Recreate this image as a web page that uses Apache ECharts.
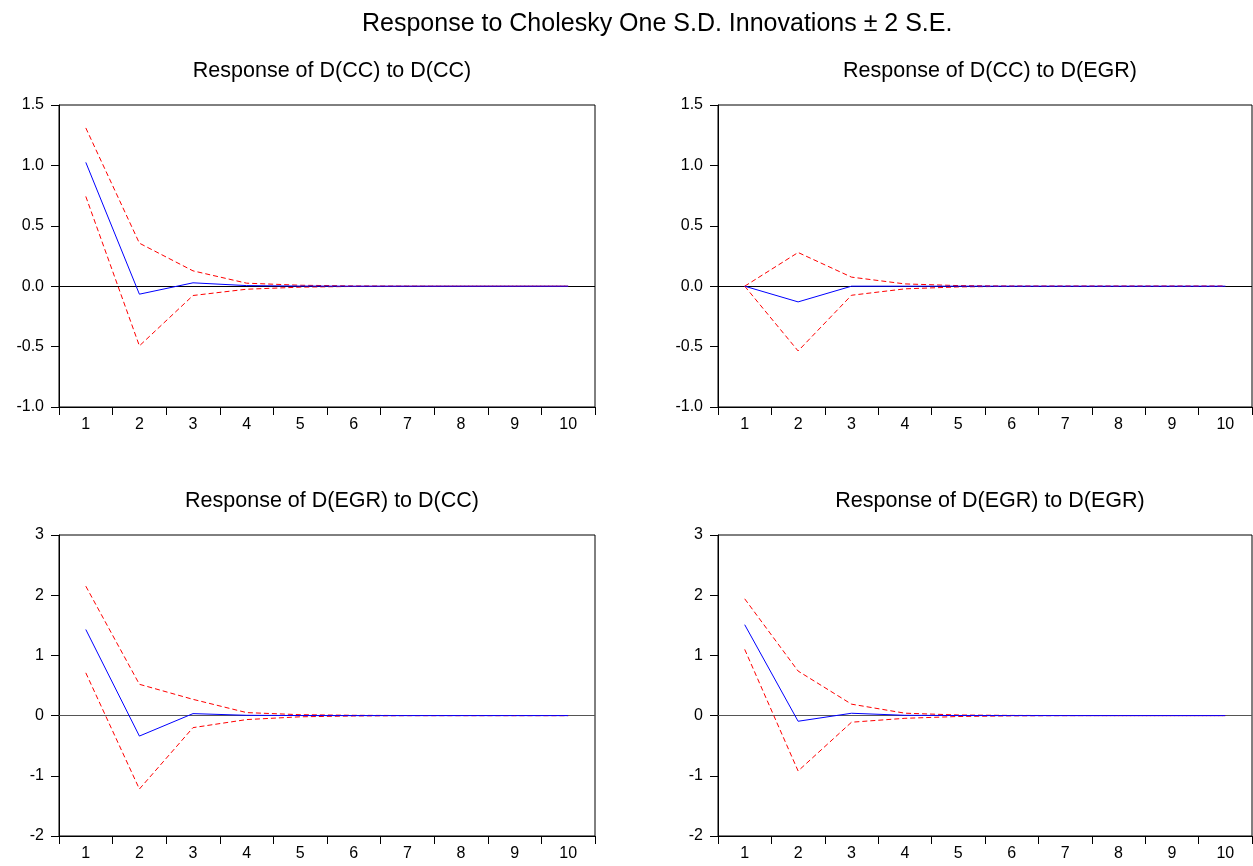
<!DOCTYPE html>
<html><head><meta charset="utf-8">
<script src="https://cdn.jsdelivr.net/npm/echarts@6/dist/echarts.min.js"></script>
<style>html,body{margin:0;padding:0;background:#fff}#c{width:1253px;height:866px}</style>
</head><body><div id="c"></div>
<script>
const periods = ['1','2','3','4','5','6','7','8','9','10'];
const mainTitle = 'Response to Cholesky One S.D. Innovations \u00b1 2 S.E.';
const panelTitles = ['Response of D(CC) to D(CC)','Response of D(CC) to D(EGR)','Response of D(EGR) to D(CC)','Response of D(EGR) to D(EGR)'];

const ccCC_resp  = [1.025,-0.066,0.028,0.005,0.001,0.000,0.000,0.000,0.000,0.000];
const ccCC_up    = [1.31,0.356,0.127,0.025,0.008,0.002,0.001,0.000,0.000,0.000];
const ccCC_lo    = [0.743,-0.494,-0.077,-0.025,-0.008,-0.002,-0.001,0.000,0.000,0.000];

const ccEGR_resp = [0.000,-0.13,0.000,0.000,0.000,0.000,0.000,0.000,0.000,0.000];
const ccEGR_up   = [0.000,0.279,0.075,0.019,0.005,0.001,0.000,0.000,0.000,0.000];
const ccEGR_lo   = [0.000,-0.536,-0.075,-0.022,-0.006,-0.001,0.000,0.000,0.000,0.000];

const egrCC_resp = [1.43,-0.34,0.033,0.005,0.001,0.000,0.000,0.000,0.000,0.000];
const egrCC_up   = [2.15,0.52,0.27,0.05,0.015,0.005,0.001,0.000,0.000,0.000];
const egrCC_lo   = [0.71,-1.22,-0.2,-0.066,-0.02,-0.006,-0.001,0.000,0.000,0.000];

const egrEGR_resp= [1.51,-0.094,0.039,0.005,0.001,0.000,0.000,0.000,0.000,0.000];
const egrEGR_up  = [1.94,0.74,0.19,0.04,0.01,0.003,0.001,0.000,0.000,0.000];
const egrEGR_lo  = [1.10,-0.92,-0.11,-0.045,-0.015,-0.004,-0.001,0.000,0.000,0.000];

const panels = [
  {resp: ccCC_resp, up: ccCC_up, lo: ccCC_lo, min: -1, max: 1.5, interval: 0.5, dec: 1, zeroColor: '#000'},
  {resp: ccEGR_resp, up: ccEGR_up, lo: ccEGR_lo, min: -1, max: 1.5, interval: 0.5, dec: 1, zeroColor: '#000'},
  {resp: egrCC_resp, up: egrCC_up, lo: egrCC_lo, min: -2, max: 3, interval: 1, dec: 0, zeroColor: '#555'},
  {resp: egrEGR_resp, up: egrEGR_up, lo: egrEGR_lo, min: -2, max: 3, interval: 1, dec: 0, zeroColor: '#555'}
];
const grids = [
  {left: 59, top: 105, width: 536, height: 302},
  {left: 718, top: 105, width: 534, height: 302},
  {left: 59, top: 535, width: 536, height: 301},
  {left: 718, top: 535, width: 534, height: 301}
];
const titleCenters = [327, 985, 327, 985];
const font = 'Liberation Sans, Arial, sans-serif';
const titles = [{text: mainTitle, left: 357, top: 7, textStyle: {fontFamily: font, fontSize: 25, fontWeight: 'normal', color: '#000'}}];
panels.forEach((p, i) => {
  const g = grids[i];
  titles.push({text: panelTitles[i], left: titleCenters[i], textAlign: 'center', top: g.top - 50,
    textStyle: {fontFamily: font, fontSize: 21.5, fontWeight: 'normal', color: '#000'}});
});
const option = {
  animation: false,
  backgroundColor: '#fff',
  title: titles,
  grid: grids.map(g => Object.assign({show: true, borderColor: '#000', borderWidth: 1, backgroundColor: 'transparent'}, g)),
  xAxis: panels.map((p, i) => ({
    type: 'category', gridIndex: i, data: periods, boundaryGap: true,
    axisLine: {onZero: false, lineStyle: {color: '#000', width: 1}},
    axisTick: {show: true, inside: false, length: 8, alignWithLabel: false, lineStyle: {color: '#000'}},
    axisLabel: {fontFamily: font, fontSize: 16, color: '#000', margin: 10},
    splitLine: {show: false}
  })),
  yAxis: panels.map((p, i) => ({
    type: 'value', gridIndex: i, min: p.min, max: p.max, interval: p.interval,
    axisLine: {show: true, onZero: false, lineStyle: {color: '#000', width: 1}},
    axisTick: {show: true, inside: false, length: 8, lineStyle: {color: '#000'}},
    axisLabel: {fontFamily: font, fontSize: 16, color: '#000', margin: 15,
      formatter: v => v.toFixed(p.dec)},
    splitLine: {show: false}
  })),
  series: []
};
panels.forEach((p, i) => {
  option.series.push({type: 'line', xAxisIndex: i, yAxisIndex: i, data: p.up, symbol: 'none',
    lineStyle: {color: '#ff0000', width: 1, type: [5, 3]}, z: 3});
  option.series.push({type: 'line', xAxisIndex: i, yAxisIndex: i, data: p.lo, symbol: 'none',
    lineStyle: {color: '#ff0000', width: 1, type: [5, 3]}, z: 3});
  option.series.push({type: 'line', xAxisIndex: i, yAxisIndex: i, data: p.resp, symbol: 'none',
    lineStyle: {color: '#0000ff', width: 1}, z: 4,
    markLine: {silent: true, symbol: 'none', label: {show: false}, z: 2,
      lineStyle: {color: p.zeroColor, width: 1, type: 'solid'}, data: [{yAxis: 0}]}});
});
echarts.init(document.getElementById('c'), null, {renderer: 'canvas'}).setOption(option);
</script></body></html>
